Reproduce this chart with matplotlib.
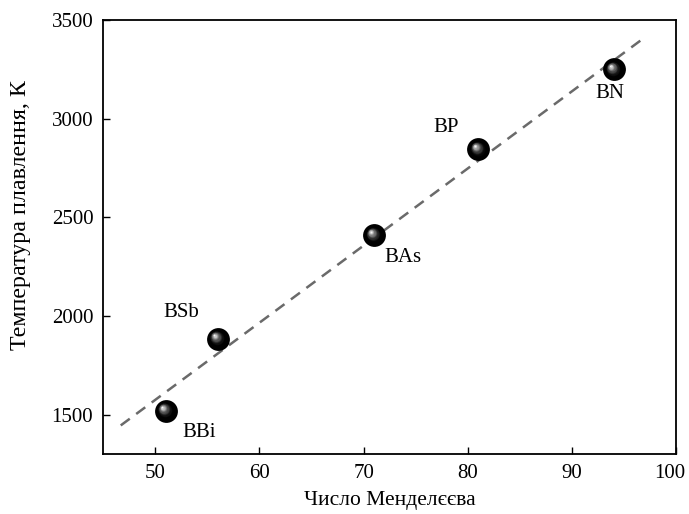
import numpy as np
import matplotlib
matplotlib.use("Agg")
import matplotlib.pyplot as plt
import matplotlib.transforms as mtransforms

plt.rcParams["font.family"] = ["Liberation Serif", "DejaVu Serif"]

# data
compounds = ["BBi", "BSb", "BAs", "BP", "BN"]
mendeleev_number = [51, 56, 71, 81, 94]
melting_temp = [1520, 1885, 2410, 2845, 3250]

# dashed trend line end points
fit_x = [46.7, 96.6]
fit_y = [1445, 3398]

# label offsets (points) relative to each sphere
label_offsets = [(24, -16), (-26, 19), (21, -16), (-23, 16), (-3, -17)]

fig = plt.figure(figsize=(6.89, 5.14), dpi=100)
ax = fig.add_axes([0.1495, 0.1167, 0.832, 0.844])

ax.plot(fit_x, fit_y, linestyle=(0, (4.5, 3.2)), color="#6a6a6a", linewidth=1.8, zorder=2)


def draw_spheres(ax, x, y, size=270, steps=18):
  """
  Draws shiny black spheres by stacking shrinking, lighter circles
  that drift towards the highlight (up-left).
  """
  ax.scatter(x, y, s=size, color="black", zorder=3, linewidths=0)
  for i in range(1, steps + 1):
    frac = i / steps
    scale = (1 - 0.92 * frac) ** 2
    grey = min(1.0, 0.97 * frac ** 1.6)
    dx = -2.4 * frac ** 0.7
    dy = 2.4 * frac ** 0.7
    tr = mtransforms.offset_copy(ax.transData, fig=ax.figure, x=dx, y=dy, units="points")
    ax.scatter(x, y, s=size * scale * 0.45, color=(grey, grey, grey),
               transform=tr, zorder=3 + i * 0.01, linewidths=0)


draw_spheres(ax, mendeleev_number, melting_temp)

for name, xv, yv, off in zip(compounds, mendeleev_number, melting_temp, label_offsets):
  ax.annotate(name, (xv, yv), xytext=off, textcoords="offset points",
              ha="center", va="center", fontsize=15)

ax.set_xlim(45, 100)
ax.set_ylim(1300, 3500)
ax.set_xticks([50, 60, 70, 80, 90, 100])
ax.set_yticks([1500, 2000, 2500, 3000, 3500])
ax.tick_params(direction="in", length=5, width=1.0, labelsize=15, pad=7)
for sp in ax.spines.values():
  sp.set_linewidth(1.3)

# the last x tick label sits a little left so it stays inside the figure
last = ax.get_xticklabels()[-1]
last.set_transform(last.get_transform() + mtransforms.ScaledTranslation(-5 / 72, 0, fig.dpi_scale_trans))

ax.set_xlabel("Число Менделєєва", fontsize=15.5, labelpad=6)
ax.set_ylabel("Температура плавлення, К", fontsize=17.3)
ax.yaxis.set_label_coords(-0.125, 0.551)

fig.savefig("out.png", dpi=100)
